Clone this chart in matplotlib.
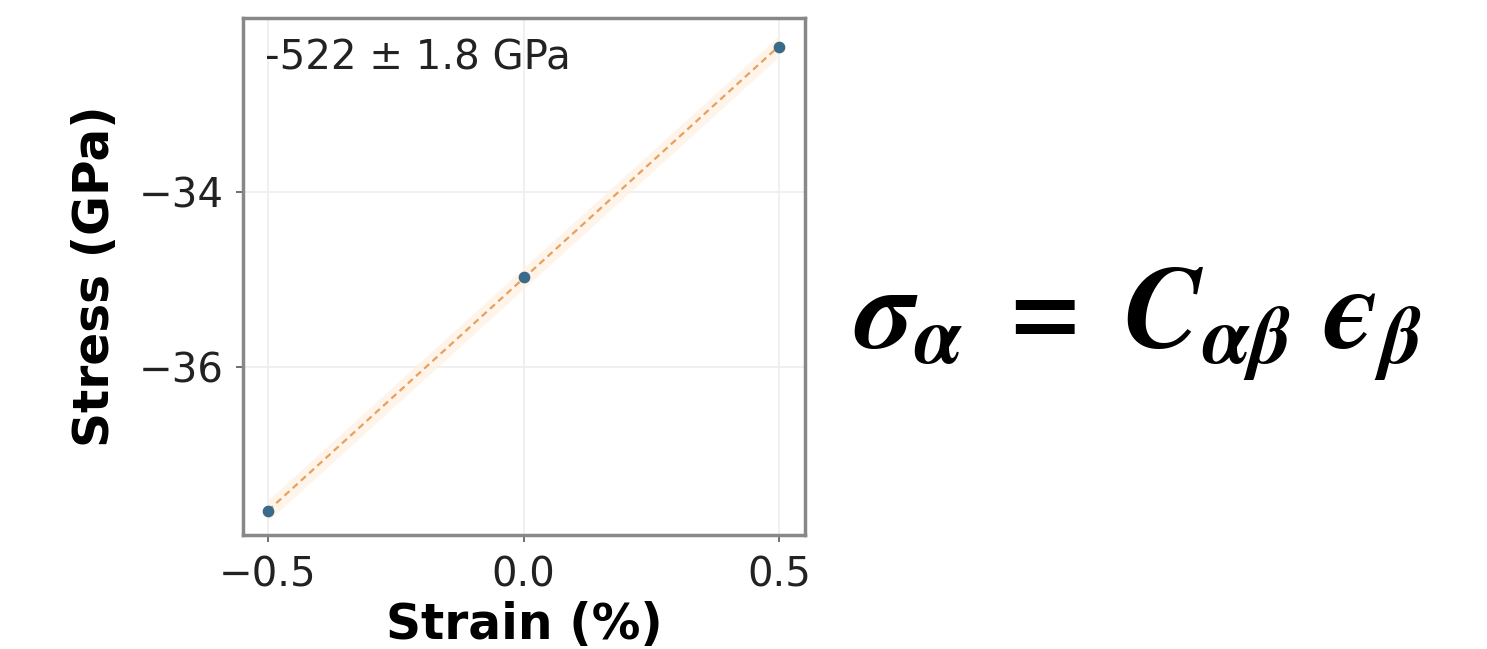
import matplotlib
matplotlib.use("Agg")
import matplotlib.pyplot as plt
import numpy as np

strain = [-0.5, 0.0, 0.5]
stress = [-37.65, -34.97, -32.34]
fit_label = "-522 ± 1.8 GPa"
xticks = [-0.5, 0.0, 0.5]
yticks = [-36, -34]

plt.rcParams["mathtext.fontset"] = "stix"
fig = plt.figure(figsize=(14.87, 6.49), dpi=100)
ax = fig.add_axes([0.1634, 0.1757, 0.378, 0.7966])

coef = np.polyfit(strain, stress, 1)
xs = np.array(strain)
fit = np.polyval(coef, xs)
ax.fill_between(xs, fit - 0.12, fit + 0.12, color="#fff0e0", alpha=0.7, lw=0)
ax.plot(xs, fit, ls=(0, (3, 2)), color="#e8a060", lw=1.6, zorder=2)
ax.scatter(strain, stress, s=55, color="#3a6a8a", zorder=3)

ax.set_xticks(xticks)
ax.set_yticks(yticks)
ax.set_xticklabels(["\u22120.5", "0.0", "0.5"])
ax.set_yticklabels(["\u221236", "\u221234"])
ax.tick_params(labelsize=29, colors="#555555", length=5, width=1.2, labelcolor="#222222")
ax.tick_params(axis="y", pad=9)
ax.tick_params(axis="x", pad=10)
ax.grid(True, color="#eeeeee", lw=1.2)
ax.set_axisbelow(True)
for s in ax.spines.values():
    s.set_color("#888888")
    s.set_linewidth(2.5)
ax.set_xlim(-0.549, 0.551)
ax.set_ylim(-37.92, -32.01)

ax.set_xlabel("Strain (%)", fontsize=35, fontweight="bold", labelpad=4)
ax.set_ylabel("Stress (GPa)", fontsize=35, fontweight="bold", labelpad=14)
ax.text(0.04, 0.96, fit_label, transform=ax.transAxes, fontsize=29,
        va="top", ha="left", color="#222222")

fig.text(0.765, 0.50, r"$\mathbfit{\sigma_{\alpha}\ =\ C_{\alpha\beta}\ \u03f5_{\beta}}$".replace("\\u03f5", "\u03f5"),
         fontsize=84, ha="center", va="center", color="black")

fig.savefig("out.png", dpi=100)
